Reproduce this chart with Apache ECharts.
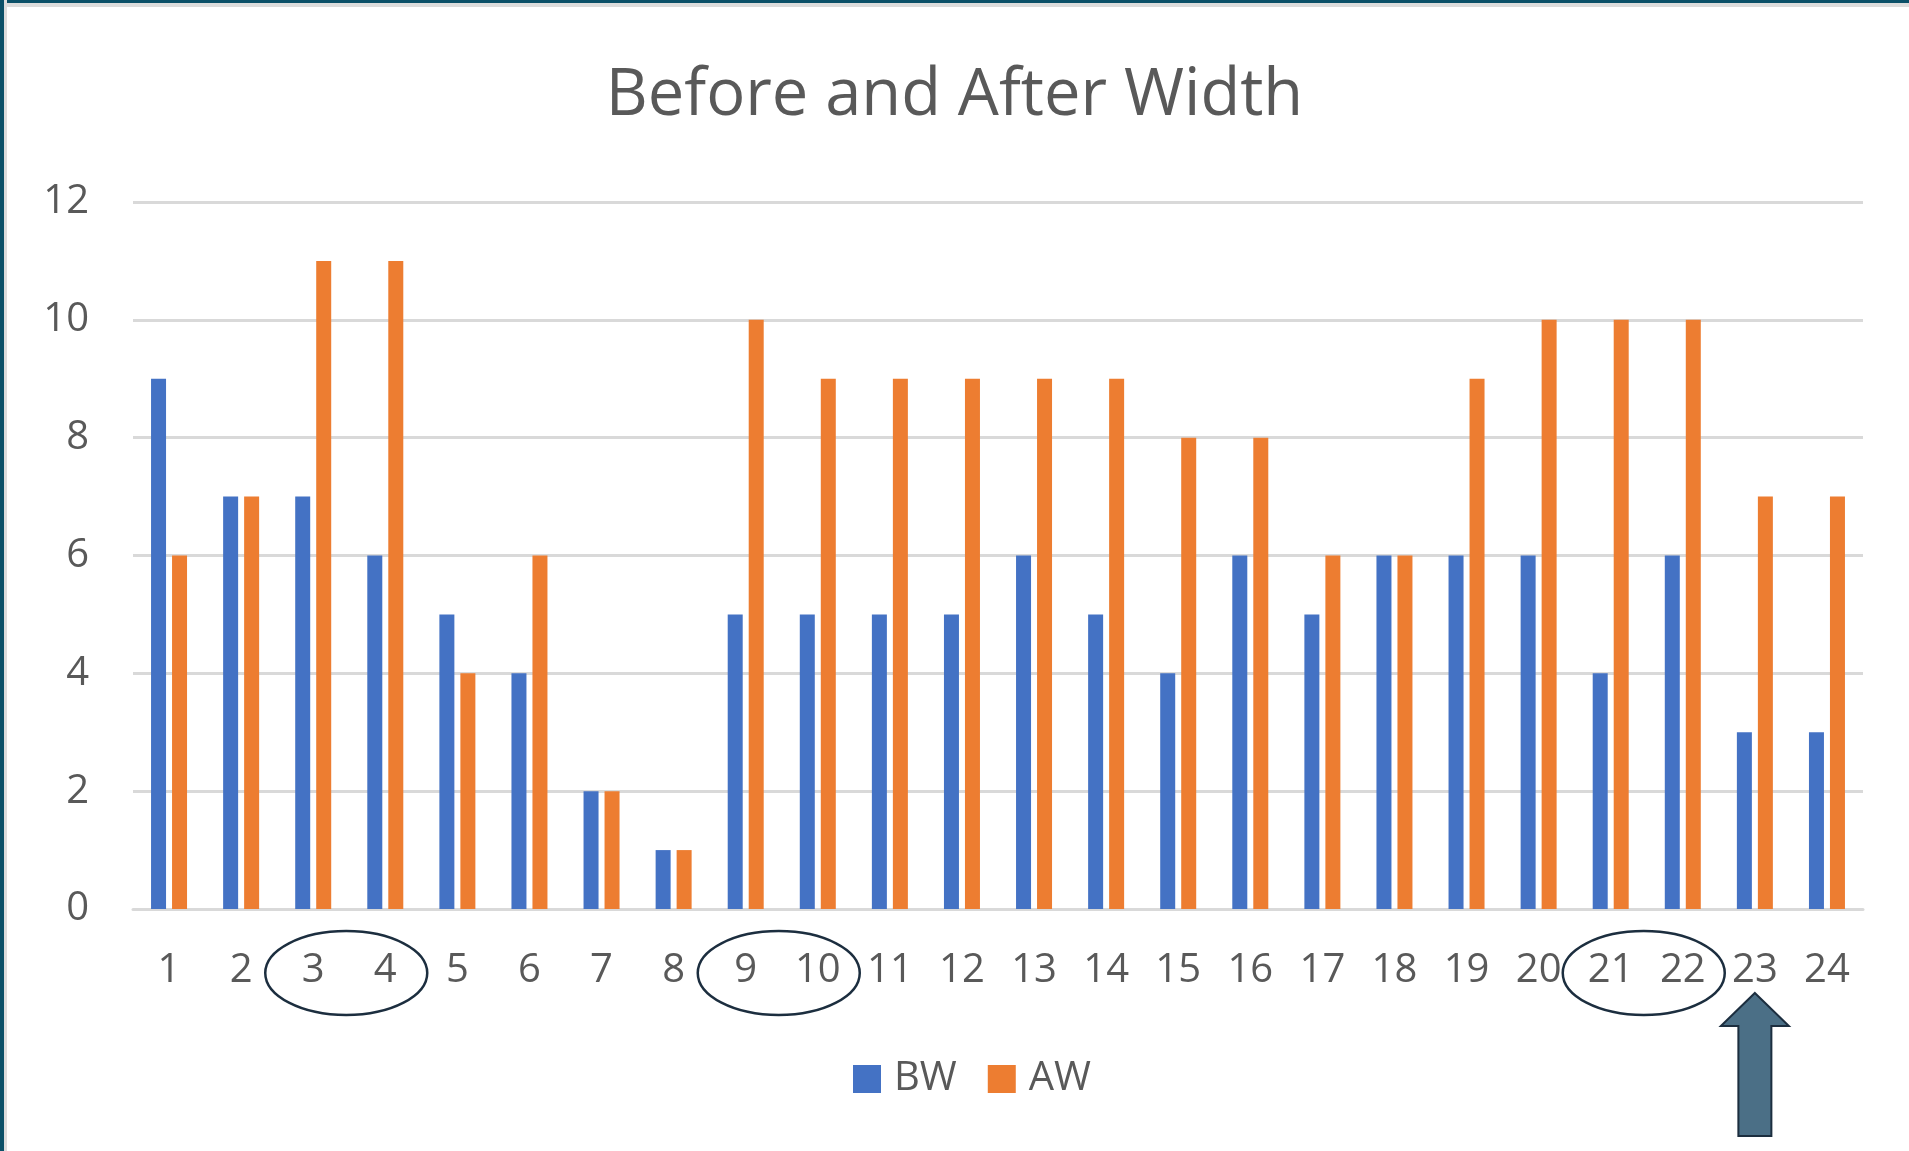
<!DOCTYPE html>
<html>
<head>
<meta charset="utf-8">
<title>Before and After Width</title>
<script src="https://cdn.jsdelivr.net/npm/echarts@6/dist/echarts.min.js"></script>
<style>
  html, body {
    margin: 0;
    padding: 0;
    background: #fff;
  }
  #wrap {
    position: relative;
    width: 1909px;
    height: 1151px;
    overflow: hidden;
  }
  #main {
    width: 1909px;
    height: 1151px;
  }
  /* slide frame, top and left edge */
  .edge-top {
    position: absolute; left: 0; top: 0; width: 100%; height: 3px;
    background: #0b5068; border-bottom: 4px solid #dcdcdc;
  }
  .edge-left {
    position: absolute; left: 0; top: 0; width: 4px; height: 100%;
    background: #0b5068; border-right: 3px solid #dcdcdc;
  }
</style>
</head>
<body>
<div id="wrap">
  <div id="main"></div>
  <div class="edge-top"></div>
  <div class="edge-left"></div>
</div>
<script>
var categories = ['1', '2', '3', '4', '5', '6', '7', '8', '9', '10', '11', '12',
  '13', '14', '15', '16', '17', '18', '19', '20', '21', '22', '23', '24']
var bwValues = [9, 7, 7, 6, 5, 4, 2, 1, 5, 5, 5, 5, 6, 5, 4, 6, 5, 6, 6, 6, 4, 6, 3, 3]
var awValues = [6, 7, 11, 11, 4, 6, 2, 1, 10, 9, 9, 9, 9, 9, 8, 8, 6, 6, 9, 10, 10, 10, 7, 7]
var yTicks = [0, 2, 4, 6, 8, 10, 12]
// pairs of categories circled on the slide, and the one the arrow points at
var circledPairs = [['3', '4'], ['9', '10'], ['21', '22']]
var arrowCategory = '23'

var textColor = '#595959'
var fontFamily = '"Open Sans", "Noto Sans", sans-serif'

var chart = echarts.init(document.getElementById('main'))

var option = {
  animation: false,
  backgroundColor: '#fff',
  title: {
    text: 'Before and After Width',
    left: 'center',
    top: 59,
    textStyle: {
      fontFamily: fontFamily,
      fontWeight: 'normal',
      fontSize: 65,
      color: textColor
    }
  },
  legend: {
    data: ['BW', 'AW'],
    left: 848,
    top: 1054,
    itemWidth: 28,
    itemHeight: 28,
    itemGap: 31,
    icon: 'rect',
    textStyle: {
      fontFamily: fontFamily,
      fontSize: 40,
      color: textColor,
      padding: [0, 0, 0, 8]
    }
  },
  grid: {
    left: 133,
    right: 46,
    top: 202,
    bottom: 242
  },
  xAxis: {
    type: 'category',
    data: categories,
    axisTick: { show: false },
    axisLine: {
      lineStyle: { color: '#d9d9d9', width: 3 }
    },
    axisLabel: {
      interval: 0,
      margin: 42,
      fontFamily: fontFamily,
      fontSize: 40,
      color: textColor
    }
  },
  yAxis: {
    type: 'value',
    min: yTicks[0],
    max: yTicks[yTicks.length - 1],
    interval: 2,
    axisLine: { show: false },
    axisTick: { show: false },
    axisLabel: {
      margin: 44,
      fontFamily: fontFamily,
      fontSize: 40,
      color: textColor
    },
    splitLine: {
      lineStyle: { color: '#d9d9d9', width: 3 }
    }
  },
  series: [
    {
      name: 'BW',
      type: 'bar',
      data: bwValues,
      barWidth: 15,
      barGap: '40%',
      itemStyle: { color: '#4472c4' }
    },
    {
      name: 'AW',
      type: 'bar',
      data: awValues,
      barWidth: 15,
      itemStyle: { color: '#ed7d31' }
    }
  ]
}
chart.setOption(option)

// annotations placed from the category axis
var labelY = 973
var marks = []
circledPairs.forEach(function (pair) {
  var x1 = chart.convertToPixel({ xAxisIndex: 0 }, pair[0])
  var x2 = chart.convertToPixel({ xAxisIndex: 0 }, pair[1])
  marks.push({
    type: 'ellipse',
    shape: { cx: (x1 + x2) / 2 - 3, cy: labelY, rx: 81, ry: 42 },
    style: { fill: 'none', stroke: '#1c2e3f', lineWidth: 2.5 },
    z: 100
  })
})
var ax = chart.convertToPixel({ xAxisIndex: 0 }, arrowCategory)
marks.push({
  type: 'polygon',
  shape: {
    points: [
      [ax, 993],
      [ax + 34, 1026],
      [ax + 16.5, 1026],
      [ax + 16.5, 1136],
      [ax - 16.5, 1136],
      [ax - 16.5, 1026],
      [ax - 34, 1026]
    ]
  },
  style: { fill: '#4b6f86', stroke: '#1c2e3f', lineWidth: 2 },
  z: 100
})
chart.setOption({ graphic: marks })
</script>
</body>
</html>
